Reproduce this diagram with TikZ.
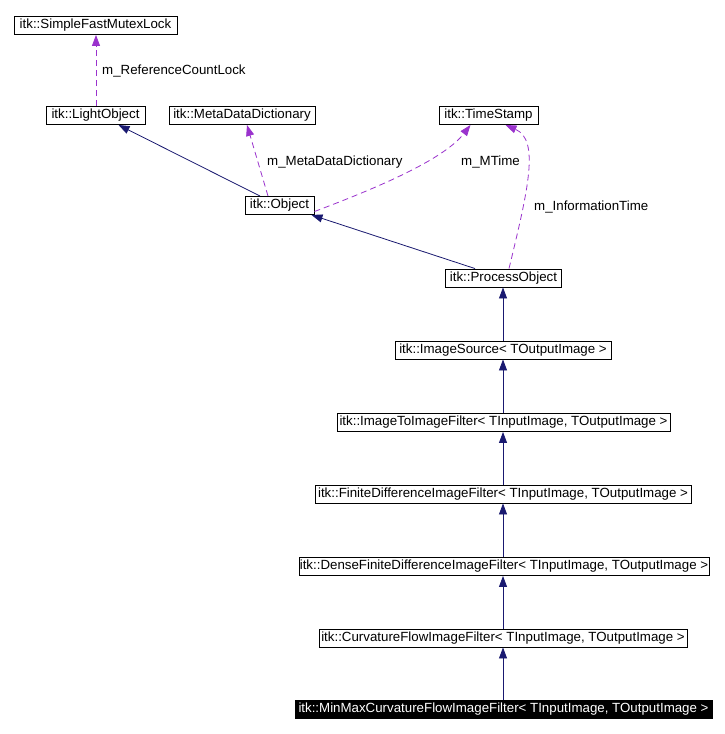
\documentclass[tikz,border=0pt]{standalone}
\usepackage{fontspec}
\setmainfont{Liberation Sans}
\usetikzlibrary{arrows.meta}
\definecolor{navyc}{HTML}{191970}
\definecolor{orchid}{HTML}{9A32CD}
\begin{document}
\begin{tikzpicture}[x=1pt,y=-1pt,
  cls/.style={draw=black,line width=0.9pt,fill=white,rectangle,inner sep=0pt,minimum height=18pt,
     font=\fontsize{13.3}{15}\selectfont},
  lbl/.style={inner sep=0pt,anchor=west,font=\fontsize{13.3}{15}\selectfont},
  inh/.style={draw=navyc,line width=0.8pt,-{Triangle[length=11pt,width=8pt]}},
  use/.style={draw=orchid,line width=0.8pt,dash pattern=on 6pt off 4pt,-{Triangle[length=11pt,width=8pt]}}]
\useasboundingbox (0,0) rectangle (725,734);
\fill[white] (0,0) rectangle (725,734);
% nodes
\node[cls,minimum width=163pt] (sfml) at (95.5,25.5) {itk::SimpleFastMutexLock};
\node[cls,minimum width=99pt] (light) at (95.5,115.5) {itk::LightObject};
\node[cls,minimum width=146pt] (meta) at (242,115.5) {itk::MetaDataDictionary};
\node[cls,minimum width=99pt] (ts) at (488.5,115.5) {itk::TimeStamp};
\node[cls,minimum width=69pt] (obj) at (279.5,205.5) {itk::Object};
\node[cls,minimum width=116pt] (po) at (503.5,278) {itk::ProcessObject};
\node[cls,minimum width=216pt] (is) at (503,350) {itk::ImageSource< TOutputImage >};
\node[cls,minimum width=333pt] (i2i) at (503.5,422.5) {itk::ImageToImageFilter< TInputImage, TOutputImage >};
\node[cls,minimum width=376pt] (fd) at (503,494) {itk::FiniteDifferenceImageFilter< TInputImage, TOutputImage >};
\node[cls,minimum width=410pt] (dense) at (504,566.5) {itk::DenseFiniteDifferenceImageFilter< TInputImage, TOutputImage >};
\node[cls,minimum width=368pt] (cf) at (503,638) {itk::CurvatureFlowImageFilter< TInputImage, TOutputImage >};
\node[cls,minimum width=417pt,fill=black,text=white] (mm) at (503.5,709.5) {itk::MinMaxCurvatureFlowImageFilter< TInputImage, TOutputImage >};
% labels
\node[lbl] (l1) at (102,71) {m\_ReferenceCountLock};
\node[lbl] (l2) at (267,162) {m\_MetaDataDictionary};
\node[lbl] (l3) at (461,162) {m\_MTime};
\node[lbl] (l4) at (534,207) {m\_InformationTime};
% usage edges
\draw[use] ([xshift=0.5pt]light.north) -- ([xshift=0.5pt]sfml.south);
\draw[use] ([xshift=-11.5pt]obj.north) -- ([xshift=5pt]meta.south);
\draw[use] ([yshift=-6pt]obj.east) .. controls (385,185) and (445,158) .. ([xshift=-18pt]ts.south);
\draw[use] ([xshift=5.5pt]po.north) .. controls (528,190) and (540,140) .. ([xshift=17pt]ts.south);
% inheritance edges
\draw[inh] ([xshift=-19.5pt]obj.north) -- ([xshift=23pt]light.south);
\draw[inh] ([xshift=-28.5pt]po.north) -- ([xshift=32pt]obj.south);
\draw[inh] (is.north) -- (is.north |- po.south);
\draw[inh] (i2i.north -| is.north) -- (is.south);
\draw[inh] (fd.north) -- (fd.north |- i2i.south);
\draw[inh] (dense.north -| fd.north) -- (fd.south);
\draw[inh] (cf.north) -- (cf.north |- dense.south);
\draw[inh] (mm.north -| cf.north) -- (cf.south);
\end{tikzpicture}
\end{document}
